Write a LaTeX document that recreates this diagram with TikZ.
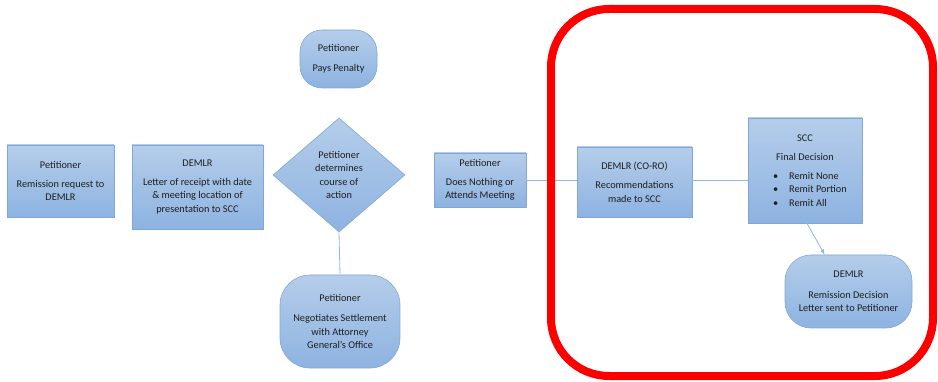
\documentclass[tikz,border=0pt]{standalone}
\usepackage{fontspec}
\setmainfont{Carlito}
\usetikzlibrary{shapes.geometric}
\definecolor{boxtop}{HTML}{B5CDEA}
\definecolor{boxbot}{HTML}{8DB3E1}
\definecolor{boxline}{HTML}{7FA8D8}
\definecolor{linkline}{HTML}{8DB8E3}
\definecolor{txt}{HTML}{1E1E1E}

\begin{document}
\begin{tikzpicture}[x=1pt, y=-1pt,
		flowbox/.style={draw=boxline, line width=0.6pt, top color=boxtop, bottom color=boxbot,
			text=txt, align=center, inner sep=0pt, font=\fontsize{10.3}{13.5}\selectfont},
		stadium/.style={flowbox, rounded corners=22pt},
		link/.style={draw=linkline, line width=0.8pt}]
		\useasboundingbox (0,0) rectangle (938,382);
		% left part
		\node[flowbox, minimum width=107pt, minimum height=72pt] (remit) at (60.5,181)
		{Petitioner\\[5pt] Remission request to\\ DEMLR};
		\node[flowbox, minimum width=131pt, minimum height=84pt] (letter) at (197.5,187)
		{DEMLR\\[5pt] Letter of receipt with date\\ \& meeting location of\\ presentation to SCC};
		\node[flowbox, diamond, minimum width=132pt, minimum height=114pt] (choice) at (339,175)
		{Petitioner\\ determines\\ course of\\ action};
		\node[stadium, minimum width=77pt, minimum height=58pt] (pays) at (338.5,59)
		{Petitioner\\[7pt] Pays Penalty};
		\node[stadium, rounded corners=30pt, minimum width=120pt, minimum height=93pt] (settle) at (340,321.5)
		{Petitioner\\[7pt] Negotiates Settlement\\ with Attorney\\ General's Office};
		\node[flowbox, minimum width=92pt, minimum height=54pt] (nothing) at (480,180)
		{Petitioner\\[5pt] Does Nothing or\\ Attends Meeting};
		% highlighted part
		\node[flowbox, minimum width=115pt, minimum height=70pt] (coro) at (634.5,182)
		{DEMLR (CO-RO)\\[6pt] Recommendations\\ made to SCC};
		\node[flowbox, minimum width=114pt, minimum height=105pt] (scc) at (805,170.5)
		{SCC\\[6pt] Final Decision\\[5pt]
		\makebox[92pt][l]{\hspace{14pt}\textbullet\hspace{11pt}Remit None}\\
		\makebox[92pt][l]{\hspace{14pt}\textbullet\hspace{11pt}Remit Portion}\\
		\makebox[92pt][l]{\hspace{14pt}\textbullet\hspace{11pt}Remit All}};
		\node[stadium, rounded corners=26pt, minimum width=127pt, minimum height=73pt] (letterout) at (848.5,291.5)
		{DEMLR\\[7pt] Remission Decision\\ Letter sent to Petitioner};

		\draw[link] (choice.south) -- (settle.north);
		\draw[link] (nothing.east) -- (coro.west |- nothing.east);
		\draw[link] (coro.east |- nothing.east) -- (scc.west |- nothing.east);
		\draw[link, -latex] ([xshift=2pt]scc.south) -- (letterout.123);

		\draw[red, line width=8pt, rounded corners=58pt] (551,9) rectangle (933,376);
	\end{tikzpicture}
\end{document}
